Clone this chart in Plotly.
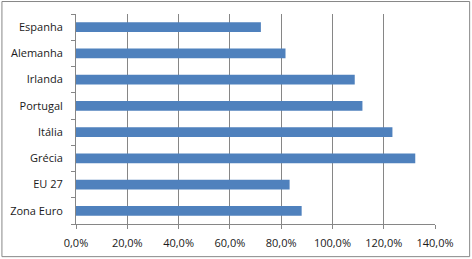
import plotly.graph_objects as go

categories = ["Espanha", "Alemanha", "Irlanda", "Portugal", "Itália", "Grécia", "EU 27", "Zona Euro"]
values = [72.1, 81.7, 108.7, 111.7, 123.4, 132.3, 83.3, 88.0]
tick_vals = [0, 20, 40, 60, 80, 100, 120, 140]
tick_text = ["0,0%", "20,0%", "40,0%", "60,0%", "80,0%", "100,0%", "120,0%", "140,0%"]

W, H = 472, 259
L, R, T, B = 75.7, 435.3, 14.0, 224.3

fig = go.Figure(go.Bar(
    x=values, y=categories, orientation="h",
    marker=dict(color="#4F81BD", line=dict(width=0)),
    width=0.38,
))

grid = "#868686"
fig.update_layout(
    width=W, height=H,
    margin=dict(l=L, r=W - R, t=T, b=H - B, pad=0),
    paper_bgcolor="white", plot_bgcolor="white",
    showlegend=False,
    font=dict(family="Open Sans, DejaVu Sans, sans-serif", size=11, color="#1a1a1a"),
    xaxis=dict(
        range=[0, 140], tickvals=tick_vals, ticktext=tick_text,
        showgrid=True, gridcolor=grid, gridwidth=1,
        zeroline=False, showline=True, linecolor=grid, linewidth=1,
        ticks="outside", ticklen=4, tickcolor=grid,
        ticklabelstandoff=5, automargin=False,
        tickfont=dict(size=11), fixedrange=True,
    ),
    yaxis=dict(
        categoryorder="array", categoryarray=categories[::-1],
        autorange=False, range=[-0.5, len(categories) - 0.5],
        showgrid=False, zeroline=False,
        showline=True, linecolor=grid, linewidth=1,
        ticks="outside", ticklen=4, tickcolor=grid,
        tickson="boundaries", ticklabelstandoff=10, automargin=False,
        tickfont=dict(size=11),
    ),
)

pw, ph = R - L, B - T
x0 = (1.5 - L) / pw
x1 = (470.0 - L) / pw
y1 = (B - 1.5) / ph
y0 = (B - 257.0) / ph
fig.add_shape(type="rect", xref="paper", yref="paper", x0=x0, x1=x1, y0=y0, y1=y1,
              line=dict(color="#878787", width=1), fillcolor="rgba(0,0,0,0)", layer="below")

fig.write_html("out.html")
